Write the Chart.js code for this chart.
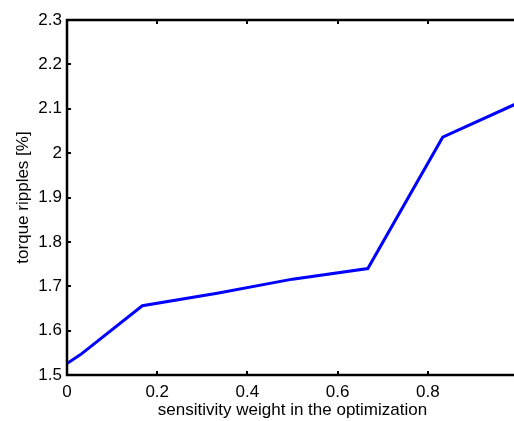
<!DOCTYPE html>
<html>
<head>
<meta charset="utf-8">
<script src="https://cdn.jsdelivr.net/npm/chart.js@4"></script>
<style>
  html, body { margin: 0; padding: 0; background: #fff; overflow: hidden; }
  canvas { display: block; }
</style>
</head>
<body>
<canvas id="chart" width="540" height="421"></canvas>
<script>
// values
const weights = [0, 0.03, 0.167, 0.333, 0.5, 0.667, 0.833, 1.0];
const ripples = [1.526, 1.546, 1.656, 1.684, 1.716, 1.740, 2.036, 2.113];
const xTicks = [0, 0.2, 0.4, 0.6, 0.8, 1.0];
const yTicks = [1.5, 1.6, 1.7, 1.8, 1.9, 2.0, 2.1, 2.2, 2.3];

const FONT = "'Liberation Sans', Arial, sans-serif";

// MATLAB-like frame with inward ticks
const framePlugin = {
  id: 'frame',
  afterDatasetsDraw(chart) {
    const { ctx, chartArea: a, scales } = chart;
    ctx.save();
    ctx.strokeStyle = '#000';
    ctx.lineWidth = 2.5;
    ctx.strokeRect(a.left, a.top, a.right - a.left, a.bottom - a.top);
    ctx.lineWidth = 2;
    ctx.beginPath();
    xTicks.forEach(v => {
      const x = Math.round(scales.x.getPixelForValue(v));
      ctx.moveTo(x, a.bottom); ctx.lineTo(x, a.bottom - 4);
      ctx.moveTo(x, a.top); ctx.lineTo(x, a.top + 4);
    });
    yTicks.forEach(v => {
      const y = Math.round(scales.y.getPixelForValue(v));
      ctx.moveTo(a.left, y); ctx.lineTo(a.left + 4, y);
      ctx.moveTo(a.right, y); ctx.lineTo(a.right - 4, y);
    });
    ctx.stroke();
    ctx.restore();
  }
};

new Chart(document.getElementById('chart'), {
  type: 'line',
  data: {
    datasets: [{
      data: weights.map((w, i) => ({ x: w, y: ripples[i] })),
      borderColor: '#0000ff',
      borderWidth: 3,
      pointRadius: 0,
      tension: 0,
      fill: false
    }]
  },
  options: {
    responsive: false,
    animation: false,
    layout: { padding: { left: 0, top: 20, right: 22, bottom: 0 } },
    plugins: { legend: { display: false }, tooltip: { enabled: false } },
    scales: {
      x: {
        type: 'linear',
        min: 0, max: 1,
        afterBuildTicks: s => { s.ticks = xTicks.map(v => ({ value: v })); },
        afterFit: s => { s.height = 46; },
        grid: { display: false, drawTicks: false },
        border: { display: false },
        ticks: {
          padding: 7,
          color: '#000',
          font: { family: FONT, size: 17 },
          callback: v => (v === 1 ? '1' : String(v))
        },
        title: {
          display: true,
          text: 'sensitivity weight in the optimization',
          color: '#000',
          font: { family: FONT, size: 17 },
          padding: { top: 0, bottom: 0 }
        }
      },
      y: {
        type: 'linear',
        min: 1.5, max: 2.3,
        afterBuildTicks: s => { s.ticks = yTicks.map(v => ({ value: v })); },
        afterFit: s => { s.width = 67; },
        grid: { display: false, drawTicks: false },
        border: { display: false },
        ticks: {
          padding: 5,
          color: '#000',
          font: { family: FONT, size: 17 },
          callback: v => {
            const t = Math.round(v * 10) / 10;
            return Number.isInteger(t) ? String(t) : t.toFixed(1);
          }
        },
        title: {
          display: true,
          text: 'torque ripples [%]',
          color: '#000',
          font: { family: FONT, size: 17 },
          padding: { top: 13, bottom: 0 }
        }
      }
    }
  },
  plugins: [framePlugin]
});
</script>
</body>
</html>
